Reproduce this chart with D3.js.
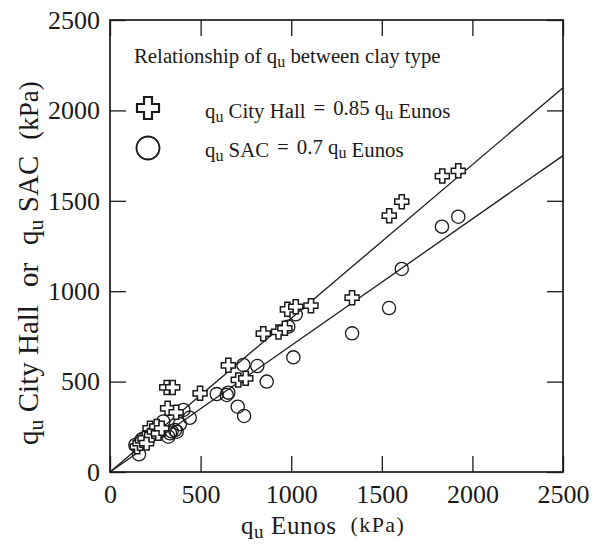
<!DOCTYPE html>
<html>
<head>
<meta charset="utf-8">
<script src="https://cdn.jsdelivr.net/npm/d3@7"></script>
<style>
  body { margin: 0; background: #fff; }
  svg { display: block; }
  text, tspan { font-family: "Liberation Serif", "Times New Roman", serif; fill: #1a1a1a; }
</style>
</head>
<body>
<svg id="chart" width="597" height="544"></svg>
<script>
// Unconfined compressive strength qu (kPa): Eunos vs City Hall / SAC clays
const cityHallEunos = [150, 166, 180, 193, 202, 221, 230, 245, 258, 267, 285, 313, 346, 318, 365, 497, 653, 708, 749, 846, 930, 965, 979, 1025, 1109, 1336, 1541, 1610, 1834, 1922];
const cityHallQu    = [140, 159, 175, 186, 160, 242, 205, 225, 251, 214, 242, 468, 468, 352, 330, 435, 590, 509, 518, 765, 775, 795, 900, 914, 920, 964, 1418, 1495, 1637, 1666];

const sacEunos = [160, 140, 175, 205, 235, 270, 294, 322, 331, 340, 359, 368, 386, 405, 440, 589, 644, 653, 705, 740, 736, 813, 865, 984, 1012, 1025, 1336, 1540, 1610, 1832, 1922];
const sacQu    = [98, 150, 180, 195, 210, 220, 280, 195, 214, 225, 232, 223, 265, 343, 300, 431, 426, 439, 361, 310, 592, 586, 500, 804, 634, 872, 767, 907, 1123, 1357, 1412];

// Fitted ratios to qu Eunos
const fitRatios = [0.85, 0.7];

const axisTicks = [0, 500, 1000, 1500, 2000, 2500];
const axisMax = 2500;

const svg = d3.select("#chart");
const x = d3.scaleLinear().domain([0, axisMax]).range([110, 563]);
const y = d3.scaleLinear().domain([0, axisMax]).range([472, 20]);
const ink = "#1a1a1a";
const serif = "'Liberation Serif', 'Times New Roman', serif";
const fmt = d3.format("d");

// Inward ticks on all four sides
const tickLen = 16;
svg.append("g").attr("transform", `translate(0,${y(0)})`)
  .call(d3.axisBottom(x).tickValues(axisTicks).tickFormat(fmt).tickSizeInner(-tickLen).tickSizeOuter(0).tickPadding(13))
  .call(g => g.select(".domain").remove());
svg.append("g").attr("transform", `translate(${x(0)},0)`)
  .call(d3.axisLeft(y).tickValues(axisTicks).tickFormat(fmt).tickSizeInner(-tickLen).tickSizeOuter(0).tickPadding(10))
  .call(g => g.select(".domain").remove());
svg.append("g").attr("transform", `translate(0,${y(axisMax)})`)
  .call(d3.axisTop(x).tickValues(axisTicks).tickSizeInner(-tickLen).tickSizeOuter(0).tickFormat(""))
  .call(g => g.select(".domain").remove());
svg.append("g").attr("transform", `translate(${x(axisMax)},0)`)
  .call(d3.axisRight(y).tickValues(axisTicks).tickSizeInner(-tickLen).tickSizeOuter(0).tickFormat(""))
  .call(g => g.select(".domain").remove());
svg.selectAll(".tick line").attr("stroke", ink).attr("stroke-width", 1.3);
svg.selectAll(".tick text").attr("fill", ink).attr("font-size", 26).style("font-family", serif);

// Plot frame
svg.append("rect")
  .attr("x", x(0)).attr("y", y(axisMax))
  .attr("width", x(axisMax) - x(0)).attr("height", y(0) - y(axisMax))
  .attr("fill", "none").attr("stroke", ink).attr("stroke-width", 1.7);

// Fit lines through the origin
svg.selectAll("line.fit").data(fitRatios).join("line")
  .attr("class", "fit")
  .attr("x1", x(0)).attr("y1", y(0))
  .attr("x2", x(axisMax)).attr("y2", r => y(r * axisMax))
  .attr("stroke", ink).attr("stroke-width", 1.3);

// Outlined plus-sign marker path
function crossPath(L, a) {
  return `M${-a},${-L}H${a}V${-a}H${L}V${a}H${a}V${L}H${-a}V${a}H${-L}V${-a}H${-a}Z`;
}

const sacPts = sacEunos.map((e, i) => [e, sacQu[i]]);
const chPts = cityHallEunos.map((e, i) => [e, cityHallQu[i]]);

svg.append("g").selectAll("circle").data(sacPts).join("circle")
  .attr("cx", d => x(d[0])).attr("cy", d => y(d[1])).attr("r", 6.6)
  .attr("fill", "none").attr("stroke", ink).attr("stroke-width", 1.3);

svg.append("g").selectAll("path").data(chPts).join("path")
  .attr("transform", d => `translate(${x(d[0])},${y(d[1])})`)
  .attr("d", crossPath(7, 2.6))
  .attr("fill", "#fff").attr("stroke", ink).attr("stroke-width", 1.5);

// Legend
const leg = svg.append("g");
const title = leg.append("text").attr("x", 134).attr("y", 63).attr("font-size", 20.8);
title.append("tspan").text("Relationship of q");
title.append("tspan").attr("font-size", 16).attr("dy", 4).text("u");
title.append("tspan").attr("dy", -4).text(" between clay type");

leg.append("path").attr("transform", "translate(148,108)").attr("d", crossPath(11, 4))
  .attr("fill", "#fff").attr("stroke", ink).attr("stroke-width", 2.2);
leg.append("circle").attr("cx", 148).attr("cy", 148).attr("r", 11.5)
  .attr("fill", "none").attr("stroke", ink).attr("stroke-width", 1.8);

function quLabel(sel, site, ratio) {
  sel.append("tspan").text("q");
  sel.append("tspan").attr("font-size", 16).attr("dy", 4).text("u");
  sel.append("tspan").attr("dy", -4).text(` ${site}`);
  sel.append("tspan").attr("dx", 8).attr("dy", -3).text("=");
  sel.append("tspan").attr("dx", 8).text(`${ratio} q`);
  sel.append("tspan").attr("font-size", 16).attr("dy", 4).text("u");
  sel.append("tspan").attr("dy", -1).text(" Eunos");
}
quLabel(leg.append("text").attr("x", 205).attr("y", 118).attr("font-size", 20.8), "City Hall", fitRatios[0]);
quLabel(leg.append("text").attr("x", 205).attr("y", 157).attr("font-size", 20.8), "SAC", fitRatios[1]);

// Axis titles
const xt = svg.append("text").attr("x", 241).attr("y", 534).attr("font-size", 25)
  .style("font-family", serif).style("letter-spacing", "0.6px");
xt.append("tspan").text("q");
xt.append("tspan").attr("font-size", 19).attr("dy", 4).text("u");
xt.append("tspan").attr("dy", -4).text(" Eunos");
xt.append("tspan").attr("font-size", 22).attr("dx", 14).attr("dy", -2)
  .style("font-family", serif).style("letter-spacing", "1.4px").text("(kPa)");

const yt = svg.append("text").attr("transform", "translate(38,445) rotate(-90)").attr("font-size", 29)
  .style("font-family", serif);
yt.append("tspan").text("q");
yt.append("tspan").attr("font-size", 22).attr("dy", 5).text("u");
yt.append("tspan").attr("dy", -5).text(" City Hall");
yt.append("tspan").attr("dx", 18).text("or");
yt.append("tspan").attr("dx", 18).text("q");
yt.append("tspan").attr("font-size", 22).attr("dy", 5).text("u");
yt.append("tspan").attr("dy", -5).text(" SAC");
yt.append("tspan").attr("dx", 16).attr("font-size", 27).text("(kPa)");
</script>
</body>
</html>
